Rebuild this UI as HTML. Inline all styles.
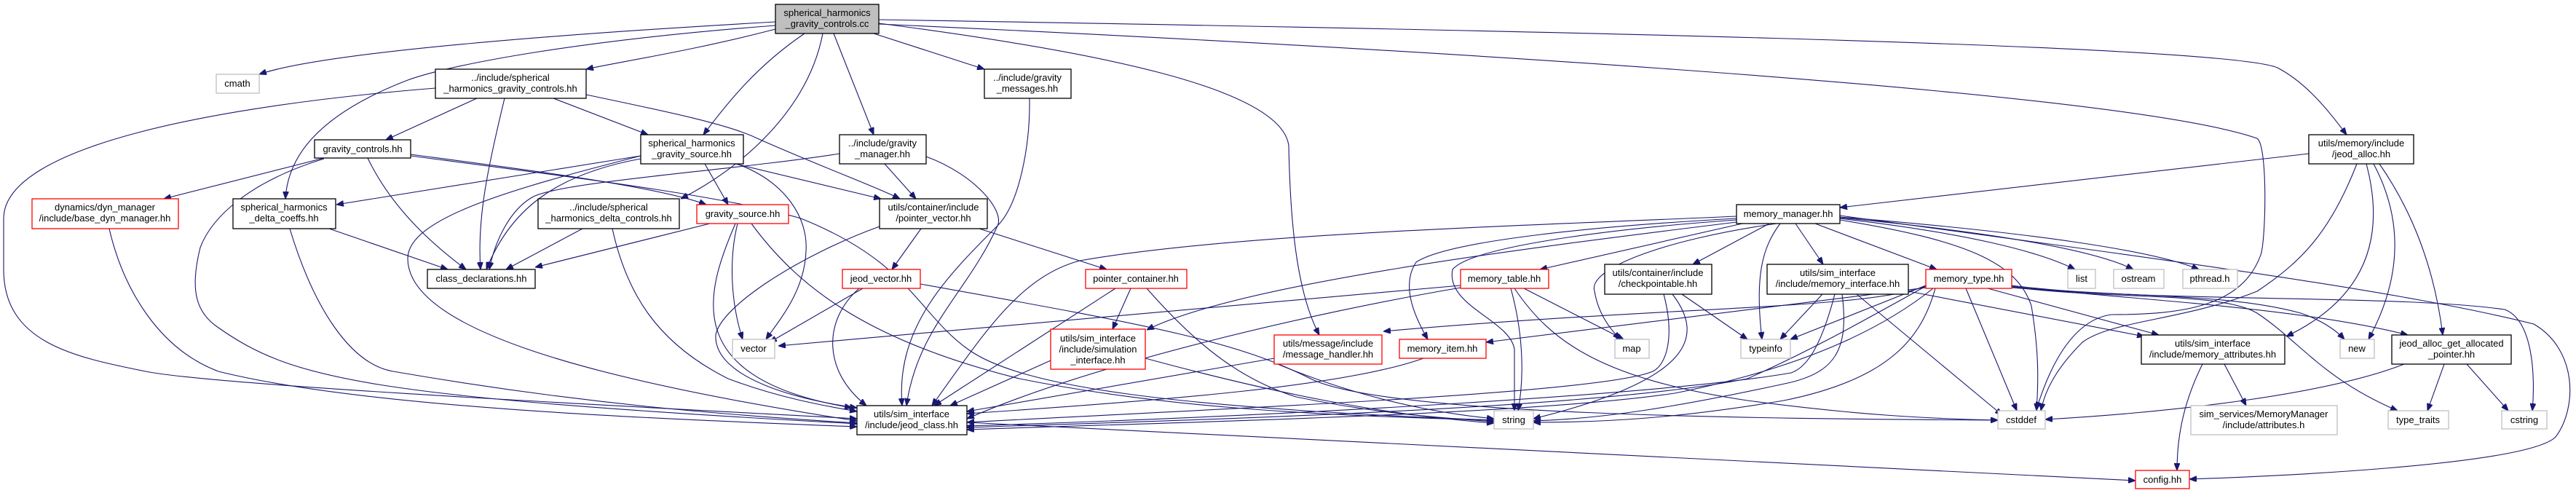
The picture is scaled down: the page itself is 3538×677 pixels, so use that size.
<!DOCTYPE html>
<html><head><meta charset="utf-8"><style>
html,body{margin:0;padding:0;background:#fff;}
svg{display:block;}
text{font-family:"Liberation Sans",Arial,sans-serif;font-size:13px;fill:#000;text-anchor:middle;}
.e{fill:none;stroke:#191970;stroke-width:1.1;marker-end:url(#a);}
.b{fill:#fff;stroke:#000;stroke-width:1.3;}
.r{fill:#fff;stroke:#ff0000;stroke-width:1.3;}
.g{fill:#fff;stroke:#bfbfbf;stroke-width:1.3;}
</style></head><body>
<svg width="3538" height="677" viewBox="0 0 3538 677" xmlns="http://www.w3.org/2000/svg">
<defs><marker id="a" markerWidth="10" markerHeight="8" refX="10" refY="4" orient="auto" markerUnits="userSpaceOnUse"><path d="M0,0 L10,4 L0,8 Z" fill="#191970" stroke="#191970"/></marker></defs>
<g>
<!-- A edges -->
<path class="e" d="M1065,30 C800,45 450,70 356,102"/>
<path class="e" d="M1065,40 C950,70 850,85 805,95"/>
<path class="e" d="M1065,35 C800,55 620,88 560,110 C430,160 395,220 392,273"/>
<path class="e" d="M1105,46 C1040,90 1000,140 966,185"/>
<path class="e" d="M1130,46 C1110,150 1020,230 935,273"/>
<path class="e" d="M1145,46 L1200,185"/>
<path class="e" d="M1200,46 L1352,95"/>
<path class="e" d="M1207,32 C1500,70 1760,120 1770,200 C1772,300 1780,400 1812,460"/>
<path class="e" d="M1207,27 C2000,40 3050,60 3128,93 C3170,115 3200,155 3223,185"/>
<path class="e" d="M1207,33 C1800,60 2900,120 3100,190 C3115,200 3112,330 3105,350 C3080,420 3000,432 2900,432 C2840,440 2810,520 2797,562"/>
<!-- B edges -->
<path class="e" d="M598,121 C300,145 5,200 5,300 L5,370 C5,470 100,490 200,510 C300,530 900,560 1177,575"/>
<path class="e" d="M655,135 L530,192"/>
<path class="e" d="M693,135 C670,230 655,300 660,370"/>
<path class="e" d="M760,135 L890,185"/>
<path class="e" d="M805,130 C900,150 1000,170 1040,190 C1130,230 1200,255 1236,273"/>
<!-- F edges -->
<path class="e" d="M445,217 L225,273"/>
<path class="e" d="M505,217 C540,290 600,340 640,370"/>
<path class="e" d="M564,212 C700,230 900,255 970,281"/>
<path class="e" d="M445,218 C340,250 290,300 275,340 C260,400 270,430 300,450 C400,520 500,545 1177,582"/>
<path class="e" d="M564,214 C800,245 1000,270 1100,300 C1250,360 1260,430 1330,480 C1400,530 1600,560 2052,577"/>
<!-- G edges -->
<path class="e" d="M880,214 L462,281"/>
<path class="e" d="M880,218 C760,240 700,290 668,370"/>
<path class="e" d="M968,225 L1000,281"/>
<path class="e" d="M1012,225 C1080,250 1110,300 1107,345 C1105,400 1070,440 1052,466"/>
<path class="e" d="M1010,225 L1210,273"/>
<path class="e" d="M880,214 C700,260 560,300 560,355 C560,450 800,520 1177,578"/>
<!-- H edges -->
<path class="e" d="M1215,225 L1258,273"/>
<path class="e" d="M1153,211 C1000,235 760,250 729,272 C700,290 680,330 672,370"/>
<path class="e" d="M1272,215 C1340,240 1380,290 1370,310 C1330,400 1260,450 1245,557"/>
<!-- K edges -->
<path class="e" d="M800,314 L695,370"/>
<path class="e" d="M841,314 C860,400 900,470 1000,520 C1080,550 1150,560 1177,565"/>
<!-- L edges -->
<path class="e" d="M975,307 L735,367"/>
<path class="e" d="M1013,307 C1000,360 1005,420 1020,466"/>
<path class="e" d="M1010,307 C970,400 930,520 1170,560"/>
<path class="e" d="M1032,307 C1100,400 1200,470 1400,520 C1600,560 1800,570 2052,577"/>
<!-- M edges -->
<path class="e" d="M1265,314 L1225,370"/>
<path class="e" d="M1345,314 L1520,370"/>
<path class="e" d="M1208,311 C1100,350 990,420 983,460 C980,520 1100,550 1177,560"/>
<!-- P edges -->
<path class="e" d="M1185,396 L1057,470"/>
<path class="e" d="M1180,396 C1130,440 1130,510 1190,557"/>
<path class="e" d="M1264,390 C1600,450 1700,470 1800,520 C1900,570 2400,575 2744,577"/>
<!-- Q edges -->
<path class="e" d="M1553,396 L1528,452"/>
<path class="e" d="M1532,396 L1283,557"/>
<path class="e" d="M1575,396 C1640,470 1700,520 1780,545 C1900,570 2000,575 2052,579"/>
<!-- Z edges -->
<path class="e" d="M1443,495 L1305,557"/>
<path class="e" d="M1573,492 C1750,540 1900,570 2052,581"/>
<!-- N edges -->
<path class="e" d="M2385,297 C2100,310 1700,320 1483,358 C1400,380 1350,460 1280,557"/>
<path class="e" d="M2385,305 C2100,340 1700,390 1575,453"/>
<path class="e" d="M2385,300 C2200,310 1990,330 1945,360 C1925,390 1940,430 1961,466"/>
<path class="e" d="M2385,302 C2200,315 2020,340 1995,370 C1985,420 2075,440 2080,480 L2080,564"/>
<path class="e" d="M2393,307 L2115,370"/>
<path class="e" d="M2440,307 C2280,330 2180,370 2190,400 C2195,430 2210,450 2225,466"/>
<path class="e" d="M2430,307 L2325,363"/>
<path class="e" d="M2445,307 C2420,340 2410,380 2420,466"/>
<path class="e" d="M2466,307 L2504,363"/>
<path class="e" d="M2493,307 L2660,370"/>
<path class="e" d="M2527,300 C2700,320 2800,345 2850,370"/>
<path class="e" d="M2527,299 C2750,320 2880,345 2930,370"/>
<path class="e" d="M2527,298 C2800,320 2960,345 3020,370"/>
<path class="e" d="M2527,302 C2700,330 2770,360 2790,420 C2800,480 2800,520 2797,564"/>
<path class="e" d="M2527,296 C3000,360 3300,400 3480,445 C3540,480 3540,560 3510,600 C3470,640 3100,655 3007,658"/>
<!-- E edges -->
<path class="e" d="M3171,211 L2527,285"/>
<path class="e" d="M3237,225 C3200,320 3160,360 3100,400 C3000,440 2900,440 2860,470 C2830,500 2810,530 2803,564"/>
<path class="e" d="M3250,225 C3270,300 3270,400 3140,462"/>
<path class="e" d="M3260,225 C3300,300 3300,380 3253,466"/>
<path class="e" d="M3268,225 C3320,300 3345,380 3355,460"/>
<!-- R edges -->
<path class="e" d="M2006,392 L1069,475"/>
<path class="e" d="M2006,395 C1800,430 1500,500 1328,575"/>
<path class="e" d="M2093,396 L2230,466"/>
<path class="e" d="M2075,396 C2090,450 2095,510 2085,564"/>
<path class="e" d="M2080,396 C2130,470 2200,520 2400,550 C2550,570 2650,575 2744,577"/>
<!-- S edges -->
<path class="e" d="M2285,404 C2300,460 2290,500 2270,510 C2200,540 1700,560 1328,580"/>
<path class="e" d="M2297,404 C2340,460 2330,520 2106,575"/>
<path class="e" d="M2310,404 L2400,466"/>
<!-- T edges -->
<path class="e" d="M2503,404 L2445,466"/>
<path class="e" d="M2520,404 C2500,480 2480,505 2460,512 C2300,540 1800,570 1328,585"/>
<path class="e" d="M2530,404 C2540,480 2520,510 2460,525 C2300,560 2200,575 2106,578"/>
<path class="e" d="M2550,404 L2750,570"/>
<path class="e" d="M2621,400 L2945,462"/>
<!-- U edges -->
<path class="e" d="M2645,392 L2459,466"/>
<path class="e" d="M2645,393 C2560,425 2300,420 1900,455"/>
<path class="e" d="M2645,395 L2041,470"/>
<path class="e" d="M2645,393 C2560,440 2490,480 2400,520 C2200,560 1700,575 1328,587"/>
<path class="e" d="M2658,396 C2640,460 2600,520 2450,550 C2300,575 2200,580 2106,580"/>
<path class="e" d="M2700,396 L2770,564"/>
<path class="e" d="M2730,396 L2965,460"/>
<path class="e" d="M2763,392 C2900,410 3050,400 3160,430 C3190,440 3210,455 3220,466"/>
<path class="e" d="M2763,393 C2900,410 3150,420 3307,460"/>
<path class="e" d="M2763,394 C2900,412 3050,400 3100,430 C3160,470 3190,520 3293,564"/>
<path class="e" d="M2763,395 C3000,415 3300,405 3440,425 C3480,440 3482,520 3478,564"/>
<path class="e" d="M2655,396 C2600,440 2500,500 2300,540 C2100,570 1600,580 1328,590"/>
<!-- AE, AG -->
<path class="e" d="M3025,500 C2995,560 2990,610 2990,646"/>
<path class="e" d="M3055,500 L3085,557"/>
<path class="e" d="M3302,500 C3200,540 3000,565 2809,576"/>
<path class="e" d="M3357,500 L3334,564"/>
<path class="e" d="M3388,500 L3445,564"/>
<!-- misc -->
<path class="e" d="M1328,580 C2000,610 2600,640 2933,660"/>
<path class="e" d="M150,314 C170,400 220,480 300,510 C500,560 900,575 1177,586"/>
<path class="e" d="M452,314 L615,370"/>
<path class="e" d="M398,314 C430,420 480,500 540,510 C800,555 1000,570 1177,581"/>
<path class="e" d="M1414,135 C1415,200 1400,280 1370,310 C1300,380 1230,450 1239,557"/>
<path class="e" d="M1750,492 L1328,565"/>
<path class="e" d="M1750,498 C1850,540 1950,565 2052,575"/>
<path class="e" d="M1955,492 C1850,530 1600,550 1328,568"/>
</g>
<!-- nodes -->
<rect x="1065" y="6" width="142" height="40" fill="#bfbfbf" stroke="#000" stroke-width="1.3"/>
<text x="1136" y="22">spherical_harmonics</text><text x="1136" y="37">_gravity_controls.cc</text>

<rect class="b" x="598" y="95" width="207" height="40"/>
<text x="701" y="111">../include/spherical</text><text x="701" y="126">_harmonics_gravity_controls.hh</text>

<rect class="g" x="297" y="102" width="59" height="26"/><text x="326" y="119">cmath</text>

<rect class="b" x="1352" y="95" width="119" height="40"/>
<text x="1411" y="111">../include/gravity</text><text x="1411" y="126">_messages.hh</text>

<rect class="b" x="3171" y="185" width="144" height="40"/>
<text x="3243" y="201">utils/memory/include</text><text x="3243" y="216">/jeod_alloc.hh</text>

<rect class="b" x="432" y="192" width="132" height="25"/><text x="498" y="209">gravity_controls.hh</text>

<rect class="b" x="880" y="185" width="141" height="40"/>
<text x="950" y="201">spherical_harmonics</text><text x="950" y="216">_gravity_source.hh</text>

<rect class="b" x="1153" y="185" width="119" height="40"/>
<text x="1212" y="201">../include/gravity</text><text x="1212" y="216">_manager.hh</text>

<rect class="r" x="44" y="273" width="201" height="41"/>
<text x="144" y="289">dynamics/dyn_manager</text><text x="144" y="304">/include/base_dyn_manager.hh</text>

<rect class="b" x="320" y="273" width="141" height="41"/>
<text x="390" y="289">spherical_harmonics</text><text x="390" y="304">_delta_coeffs.hh</text>

<rect class="b" x="739" y="273" width="194" height="41"/>
<text x="836" y="289">../include/spherical</text><text x="836" y="304">_harmonics_delta_controls.hh</text>

<rect class="r" x="957" y="281" width="126" height="26"/><text x="1020" y="298">gravity_source.hh</text>

<rect class="b" x="1208" y="273" width="148" height="41"/>
<text x="1282" y="289">utils/container/include</text><text x="1282" y="304">/pointer_vector.hh</text>

<rect class="b" x="2385" y="281" width="142" height="26"/><text x="2456" y="298">memory_manager.hh</text>

<rect class="b" x="587" y="370" width="148" height="26"/><text x="661" y="387">class_declarations.hh</text>

<rect class="r" x="1157" y="370" width="107" height="26"/><text x="1210" y="387">jeod_vector.hh</text>

<rect class="r" x="1491" y="370" width="139" height="26"/><text x="1560" y="387">pointer_container.hh</text>

<rect class="r" x="2006" y="370" width="121" height="26"/><text x="2066" y="387">memory_table.hh</text>

<rect class="b" x="2204" y="363" width="147" height="41"/>
<text x="2277" y="379">utils/container/include</text><text x="2277" y="394">/checkpointable.hh</text>

<rect class="b" x="2427" y="363" width="194" height="41"/>
<text x="2524" y="379">utils/sim_interface</text><text x="2524" y="394">/include/memory_interface.hh</text>

<rect class="r" x="2645" y="370" width="118" height="26"/><text x="2704" y="387">memory_type.hh</text>

<rect class="g" x="2840" y="370" width="38" height="26"/><text x="2859" y="387">list</text>
<rect class="g" x="2903" y="370" width="69" height="26"/><text x="2937" y="387">ostream</text>
<rect class="g" x="2998" y="370" width="75" height="26"/><text x="3035" y="387">pthread.h</text>

<rect class="g" x="1006" y="466" width="58" height="26"/><text x="1035" y="483">vector</text>

<rect class="r" x="1443" y="452" width="130" height="55"/>
<text x="1508" y="469">utils/sim_interface</text><text x="1508" y="484">/include/simulation</text><text x="1508" y="499">_interface.hh</text>

<rect class="r" x="1750" y="460" width="148" height="40"/>
<text x="1824" y="476">utils/message/include</text><text x="1824" y="491">/message_handler.hh</text>

<rect class="r" x="1922" y="466" width="119" height="26"/><text x="1981" y="483">memory_item.hh</text>
<rect class="g" x="2218" y="466" width="47" height="26"/><text x="2241" y="483">map</text>
<rect class="g" x="2391" y="466" width="68" height="26"/><text x="2425" y="483">typeinfo</text>

<rect class="b" x="2941" y="460" width="197" height="40"/>
<text x="3039" y="476">utils/sim_interface</text><text x="3039" y="491">/include/memory_attributes.hh</text>

<rect class="g" x="3214" y="466" width="47" height="26"/><text x="3237" y="483">new</text>

<rect class="b" x="3285" y="460" width="164" height="40"/>
<text x="3367" y="476">jeod_alloc_get_allocated</text><text x="3367" y="491">_pointer.hh</text>

<rect class="b" x="1177" y="557" width="151" height="40"/>
<text x="1252" y="573">utils/sim_interface</text><text x="1252" y="588">/include/jeod_class.hh</text>

<rect class="g" x="2052" y="564" width="54" height="25"/><text x="2079" y="581">string</text>
<rect class="g" x="2744" y="564" width="65" height="25"/><text x="2776" y="581">cstddef</text>

<rect class="g" x="3009" y="557" width="201" height="40"/>
<text x="3109" y="573">sim_services/MemoryManager</text><text x="3109" y="588">/include/attributes.h</text>

<rect class="g" x="3280" y="564" width="83" height="25"/><text x="3321" y="581">type_traits</text>
<rect class="g" x="3436" y="564" width="62" height="25"/><text x="3467" y="581">cstring</text>
<rect class="r" x="2933" y="646" width="74" height="25"/><text x="2970" y="663">config.hh</text>
</svg>
</body></html>
